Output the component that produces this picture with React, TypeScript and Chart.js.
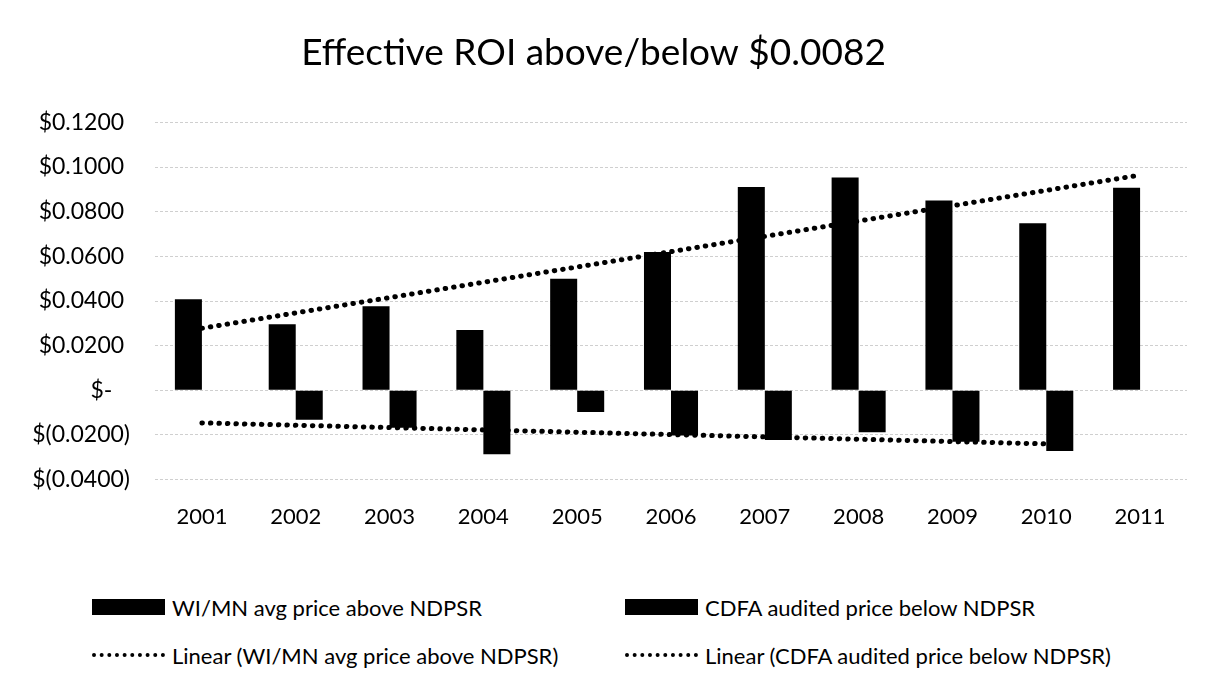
import React, { useEffect, useRef } from 'react';
import { Chart, registerables } from 'chart.js';

Chart.register(...registerables);

const titleText = 'Effective ROI above/below $0.0082';
const categories = ['2001', '2002', '2003', '2004', '2005', '2006', '2007', '2008', '2009', '2010', '2011'];
const wiAbove = [0.0408, 0.0296, 0.0376, 0.027, 0.05, 0.0619, 0.0911, 0.0953, 0.085, 0.0748, 0.0907];
const cdfaBelow = [null, -0.0132, -0.0168, -0.0286, -0.0097, -0.0202, -0.0223, -0.0188, -0.023, -0.0272, null];
const trendAbove = [0.0278, null, null, null, null, null, null, null, null, null, 0.0964];
const trendBelow = [-0.0146, null, null, null, null, null, null, null, null, -0.024, null];
const yTickValues = [-0.04, -0.02, 0, 0.02, 0.04, 0.06, 0.08, 0.1, 0.12];
const yTickLabels = ['$(0.0400)', '$(0.0200)', '$-   ', '$0.0200 ', '$0.0400 ', '$0.0600 ', '$0.0800 ', '$0.1000 ', '$0.1200 '];
const seriesNames = [
  'WI/MN avg price above NDPSR',
  'CDFA audited price below NDPSR',
  'Linear (WI/MN avg price above NDPSR)',
  'Linear (CDFA audited price below NDPSR)',
];

const FONT = 'Lato, "Open Sans", sans-serif';

function LegendItem(props: { x: number; y: number; kind: 'box' | 'dots'; label: string; }) {
  const { x, y, kind, label } = props;
  return (
    <div style={{ position: 'absolute', left: x, top: y - 15, height: 30, display: 'flex', alignItems: 'center', whiteSpace: 'nowrap' }}>
      {kind === 'box' ? (
        <div style={{ width: 73, height: 16, background: '#000' }} />
      ) : (
        <div style={{ width: 73, height: 0, borderTop: '4px dotted #000' }} />
      )}
      <span style={{ marginLeft: 7, fontFamily: FONT, fontSize: 22, color: '#000' }}>{label}</span>
    </div>
  );
}

export default function App() {
  const ref = useRef<HTMLCanvasElement | null>(null);

  useEffect(() => {
    if (!ref.current) return;
    const chart = new Chart(ref.current, {
      type: 'bar',
      data: {
        labels: categories,
        datasets: [
          {
            type: 'line',
            label: seriesNames[2],
            data: trendAbove,
            borderColor: '#000',
            borderWidth: 5,
            borderDash: [0.5, 8],
            borderCapStyle: 'round',
            pointRadius: 0,
            spanGaps: true,
            order: 0,
          } as any,
          {
            type: 'line',
            label: seriesNames[3],
            data: trendBelow,
            borderColor: '#000',
            borderWidth: 5,
            borderDash: [0.5, 8],
            borderCapStyle: 'round',
            pointRadius: 0,
            spanGaps: true,
            order: 0,
          } as any,
          {
            label: seriesNames[0],
            data: wiAbove,
            backgroundColor: '#000',
            borderWidth: 0,
            categoryPercentage: 0.576,
            barPercentage: 1,
            order: 1,
          } as any,
          {
            label: seriesNames[1],
            data: cdfaBelow,
            backgroundColor: '#000',
            borderWidth: 0,
            categoryPercentage: 0.576,
            barPercentage: 1,
            order: 1,
          } as any,
        ],
      },
      options: {
        animation: false,
        responsive: false,
        maintainAspectRatio: false,
        layout: { padding: { left: 0, right: 21, top: 0, bottom: 6 } },
        plugins: {
          legend: { display: false },
          tooltip: { enabled: false },
          title: {
            display: true,
            text: titleText,
            color: '#000',
            font: { family: FONT, size: 37, weight: 'normal', lineHeight: 1.2 },
            padding: { top: 31, bottom: 47 },
          },
        },
        scales: {
          x: {
            grid: { display: false, drawTicks: false },
            border: { display: false },
            ticks: { color: '#000', font: { family: FONT, size: 22 }, padding: 24, maxRotation: 0 },
          },
          y: {
            min: -0.04,
            max: 0.12,
            afterFit: (scale: any) => { scale.width = 155; },
            afterBuildTicks: (scale: any) => { scale.ticks = yTickValues.map((v) => ({ value: v })); },
            grid: { color: '#cfcfcf', lineWidth: 1, drawTicks: false },
            border: { display: false, dash: [3, 2] },
            ticks: {
              color: '#000',
              font: { family: FONT, size: 23 },
              padding: 25,
              callback: (value: any) => {
                const i = yTickValues.findIndex((v) => Math.abs(v - Number(value)) < 1e-9);
                return i >= 0 ? yTickLabels[i] : '';
              },
            },
          },
        },
      },
    });
    return () => chart.destroy();
  }, []);

  return (
    <div style={{ position: 'fixed', left: 0, top: 0, width: 1208, height: 678, background: '#fff', overflow: 'hidden' }}>
      <canvas ref={ref} width={1208} height={560} style={{ position: 'absolute', left: 0, top: 0, width: 1208, height: 560 }} />
      <LegendItem x={92} y={607} kind="box" label={seriesNames[0]} />
      <LegendItem x={625} y={607} kind="box" label={seriesNames[1]} />
      <LegendItem x={92} y={655} kind="dots" label={seriesNames[2]} />
      <LegendItem x={625} y={655} kind="dots" label={seriesNames[3]} />
    </div>
  );
}
